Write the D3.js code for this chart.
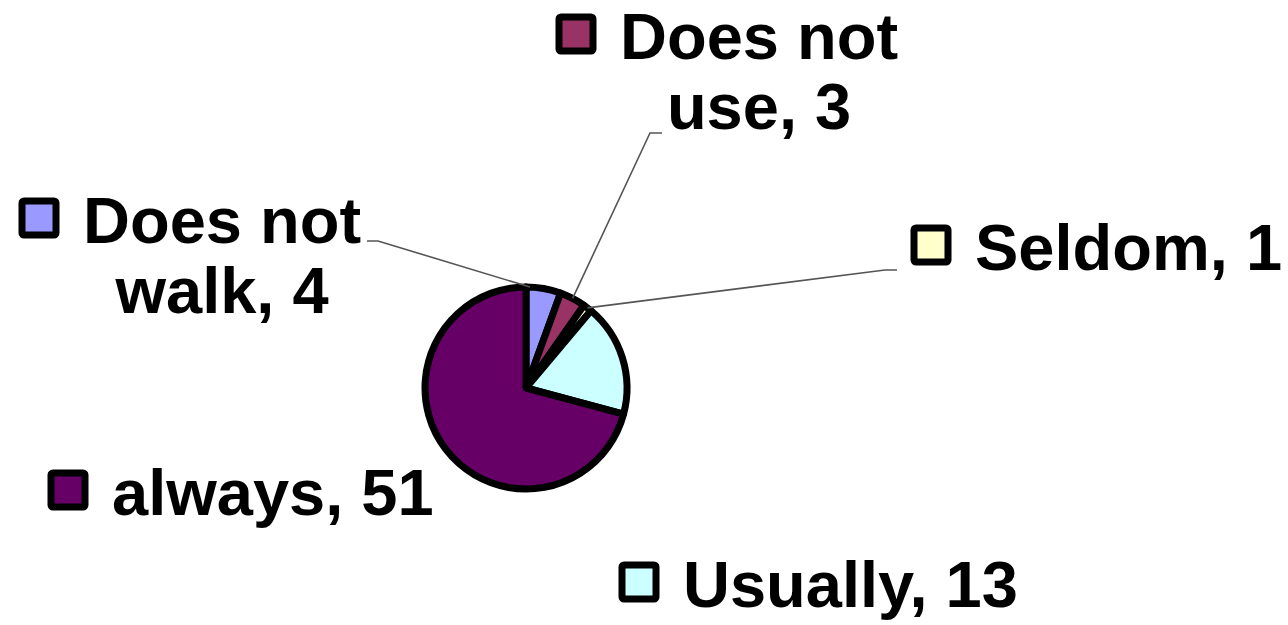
<!DOCTYPE html>
<html>
<head>
<meta charset="utf-8">
<script src="https://cdn.jsdelivr.net/npm/d3@7"></script>
<style>
  html, body { margin: 0; padding: 0; background: #fff; }
  svg { display: block; }
  text { font-family: "Liberation Sans", Arial, sans-serif; font-weight: bold; fill: #000; }
</style>
</head>
<body>
<svg id="chart" width="1288" height="625"></svg>
<script>
// Data
const categories = ["Does not walk", "Does not use", "Seldom", "Usually", "always"];
const values = [4, 3, 1, 13, 51];
const colors = ["#9999FF", "#993366", "#FFFFCC", "#CCFFFF", "#660066"];
// Label lines (text broken as in the chart)
const labelLines = [["Does not", "walk, 4"], ["Does not", "use, 3"], ["Seldom, 1"], ["Usually, 13"], ["always, 51"]];

// Layout
const W = 1288, H = 625;
const cx = 526, cy = 388, R = 101;
const fontSize = 65, lineH = 70;
// label layout: x of first text line start, baseline of first line, leader anchor
const labelLayout = [
  { x: 83,  y: 243, leader: [[367, 241], [378, 241]] },
  { x: 620, y: 59,  leader: [[662, 133], [650, 133]] },
  { x: 975, y: 270, leader: [[897, 270], [885, 270]] },
  { x: 683, y: 607, leader: null },
  { x: 112, y: 515, leader: null }
];

const svg = d3.select("#chart");
const color = d3.scaleOrdinal().domain(categories).range(colors);

const pie = d3.pie().sort(null).value(d => d.value);
const data = categories.map((c, i) => ({ name: c, value: values[i], lines: labelLines[i], layout: labelLayout[i] }));
const arcs = pie(data);
const arc = d3.arc().innerRadius(0).outerRadius(R);

const g = svg.append("g").attr("transform", `translate(${cx},${cy})`);

// Leader lines (drawn under the pie)
const leaderG = svg.append("g");
arcs.forEach(a => {
  const L = a.data.layout.leader;
  if (!L) return;
  const mid = (a.startAngle + a.endAngle) / 2;
  let px = cx + R * Math.sin(mid), py = cy - R * Math.cos(mid);
  if (a.data.name === "Does not walk") { px = cx + R * Math.sin(a.startAngle + 0.04); py = cy - R * Math.cos(a.startAngle + 0.04); }
  const pts = L.concat([[px, py]]);
  leaderG.append("path")
    .attr("d", d3.line()(pts))
    .attr("fill", "none")
    .attr("stroke", "#555")
    .attr("stroke-width", 1.6);
});

g.selectAll("path.slice")
  .data(arcs)
  .join("path")
  .attr("class", "slice")
  .attr("d", arc)
  .attr("fill", d => color(d.data.name))
  .attr("stroke", "#000")
  .attr("stroke-width", 7)
  .attr("stroke-linejoin", "round");

// Labels
data.forEach(d => {
  const lay = d.layout;
  const lg = svg.append("g");
  const sq = 34;
  lg.append("rect")
    .attr("x", lay.x - 61)
    .attr("y", lay.y - 42)
    .attr("width", sq)
    .attr("height", sq)
    .attr("rx", 2)
    .attr("fill", color(d.name))
    .attr("stroke", "#000")
    .attr("stroke-width", 7);
  const t0 = lg.append("text")
    .attr("x", lay.x)
    .attr("y", lay.y)
    .attr("font-size", fontSize)
    .text(d.lines[0]);
  if (d.lines.length > 1) {
    const w0 = t0.node().getComputedTextLength();
    lg.append("text")
      .attr("x", lay.x + w0 / 2)
      .attr("y", lay.y + lineH)
      .attr("font-size", fontSize)
      .attr("text-anchor", "middle")
      .text(d.lines[1]);
  }
});
</script>
</body>
</html>
